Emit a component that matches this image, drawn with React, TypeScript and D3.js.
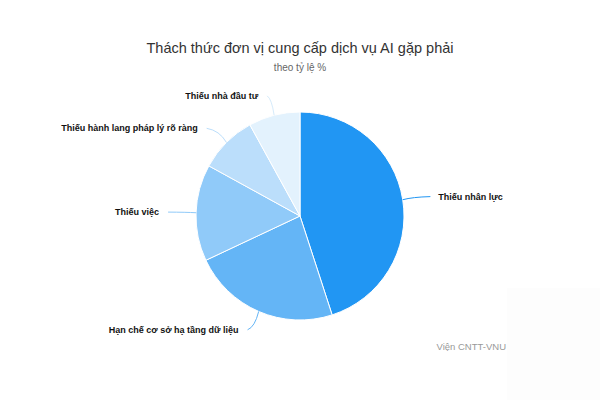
import React, { useEffect, useRef } from 'react';
import * as d3 from 'd3';

const categories = [
  'Thiếu nhân lực',
  'Hạn chế cơ sở hạ tầng dữ liệu',
  'Thiếu việc',
  'Thiếu hành lang pháp lý rõ ràng',
  'Thiếu nhà đầu tư',
];
const values = [45, 23, 15, 9, 8];
const colors = ['#2196F3', '#64B5F6', '#90CAF9', '#BBDEFB', '#E3F2FD'];

const title = 'Thách thức đơn vị cung cấp dịch vụ AI gặp phải';
const subtitle = 'theo tỷ lệ %';
const credits = 'Viện CNTT-VNU';

const App: React.FC = () => {
  const svgRef = useRef<SVGSVGElement>(null);

  useEffect(() => {
    if (!svgRef.current) return;
    const svg = d3.select(svgRef.current);
    svg.selectAll('*').remove();

    const width = 600;
    const height = 400;
    const cx = 300;
    const cy = 216;
    const r = 104;
    const font = '"Liberation Sans", Arial, Helvetica, sans-serif';

    svg.attr('width', width).attr('height', height);

    svg.append('rect').attr('width', width).attr('height', height).attr('fill', '#fff');
    // barely visible panel in the lower-right corner
    svg.append('rect')
      .attr('x', 507).attr('y', 288)
      .attr('width', width - 507).attr('height', height - 288)
      .attr('fill', '#fdfdfd');

    svg.append('text')
      .attr('x', width / 2).attr('y', 53)
      .attr('text-anchor', 'middle')
      .style('font-family', font).style('font-size', '14.5px').style('fill', '#333')
      .text(title);

    svg.append('text')
      .attr('x', width / 2).attr('y', 71)
      .attr('text-anchor', 'middle')
      .style('font-family', font).style('font-size', '10px').style('fill', '#666')
      .text(subtitle);

    const data = categories.map((name, i) => ({ name, value: values[i], color: colors[i] }));
    const pie = d3.pie<typeof data[0]>().sort(null).value(d => d.value);
    const arcs = pie(data);
    const arc = d3.arc<d3.PieArcDatum<typeof data[0]>>().innerRadius(0).outerRadius(r);

    const g = svg.append('g').attr('transform', `translate(${cx},${cy})`);

    g.selectAll('path.slice')
      .data(arcs)
      .enter()
      .append('path')
      .attr('class', 'slice')
      .attr('d', arc)
      .attr('fill', d => d.data.color)
      .attr('stroke', '#fff')
      .attr('stroke-width', 1);

    arcs.forEach(d => {
      const mid = (d.startAngle + d.endAngle) / 2;
      const right = Math.sin(mid) >= 0;
      const ex = r * Math.sin(mid);
      const ey = -r * Math.cos(mid);
      // label anchor: a bit wider horizontally than vertically
      const lx = (r + 28) * Math.sin(mid);
      const ly = -(r + 20) * Math.cos(mid);
      const path = d3.path();
      path.moveTo(lx, ly);
      path.quadraticCurveTo(ex + (lx - ex) * 0.35, ey + (ly - ey) * 0.85, ex, ey);
      g.append('path')
        .attr('d', path.toString())
        .attr('fill', 'none')
        .attr('stroke', d.data.color === '#E3F2FD' ? '#D6EBFB' : d.data.color)
        .attr('stroke-width', 1);

      g.append('text')
        .attr('x', right ? lx + 8 : lx - 9)
        .attr('y', ly)
        .attr('dy', '0.35em')
        .attr('text-anchor', right ? 'start' : 'end')
        .style('font-family', font)
        .style('font-size', '9px')
        .style('font-weight', 'bold')
        .style('fill', '#111')
        .text(d.data.name);
    });

    svg.append('text')
      .attr('x', 506).attr('y', 350)
      .attr('text-anchor', 'end')
      .style('font-family', font).style('font-size', '9.5px').style('fill', '#999')
      .text(credits);
  }, []);

  return <svg ref={svgRef} style={{ position: 'absolute', left: 0, top: 0, display: 'block' }} />;
};

export default App;
